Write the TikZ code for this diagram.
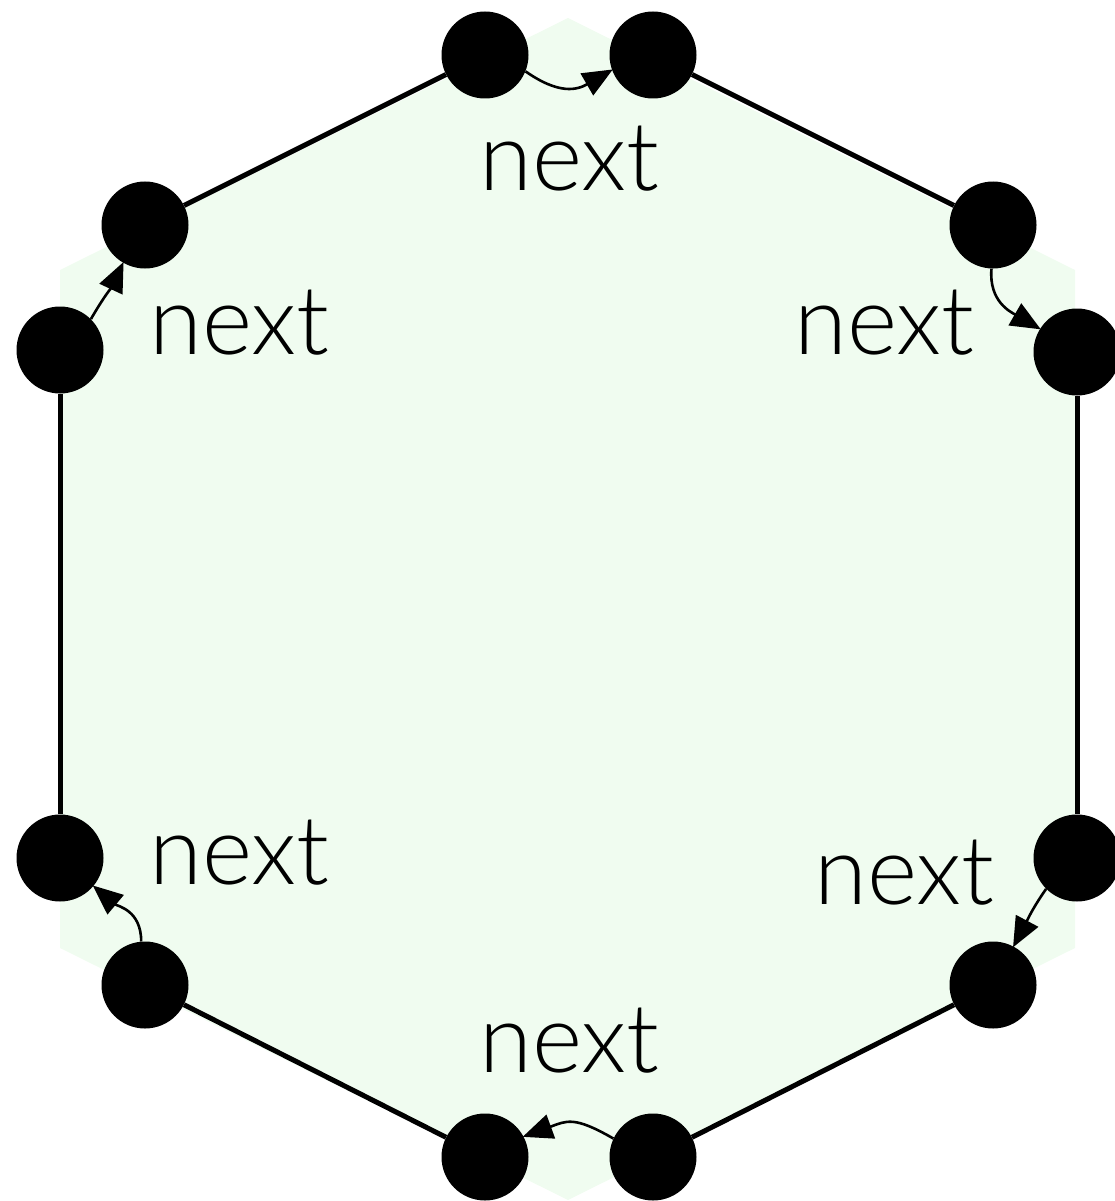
\documentclass[tikz,border=0pt]{standalone}
\usepackage{fontspec}
\setmainfont{Lato}[UprightFont=* Light]
\usetikzlibrary{arrows.meta}
\definecolor{hexfill}{RGB}{240,252,240}
\begin{document}
\begin{tikzpicture}[x=1pt,y=-1pt,
  dot/.style={circle,fill=black,minimum size=87pt,inner sep=0pt},
  edge/.style={line width=5pt},
  nxt/.style={-{Triangle[length=30pt,width=25pt]},line width=2.6pt,shorten >=-1pt},
  lbl/.style={anchor=base west,inner sep=0pt,font=\fontsize{96}{104}\selectfont}]
\useasboundingbox (0,0) rectangle (1115,1201);
\fill[hexfill] (568,18) -- (1075,270) -- (1075,948) -- (568,1200) -- (60,948) -- (60,270) -- cycle;
% dots
\node[dot] (t1) at (485,55) {};
\node[dot] (t2) at (653,55) {};
\node[dot] (r1) at (993,225) {};
\node[dot] (r2) at (1077,352) {};
\node[dot] (r3) at (1077,858) {};
\node[dot] (r4) at (993,985) {};
\node[dot] (b1) at (653,1157) {};
\node[dot] (b2) at (485,1157) {};
\node[dot] (l4) at (145,985) {};
\node[dot] (l3) at (60,858) {};
\node[dot] (l2) at (60,350) {};
\node[dot] (l1) at (145,225) {};
% edges
\draw[edge] (t1) -- (l1);
\draw[edge] (t2) -- (r1);
\draw[edge] (r2) -- (r3);
\draw[edge] (r4) -- (b1);
\draw[edge] (b2) -- (l4);
\draw[edge] (l3) -- (l2);
% next arrows
\draw[nxt] (t1.-22) to[out=-35,in=210,looseness=1.2] (t2.200);
\draw[nxt] (r1.-92) to[out=-95,in=150,looseness=1.1] (r2.148);
\draw[nxt] (r3.225) to[out=235,in=62] (r4.62);
\draw[nxt] (b1.155) to[out=150,in=20,looseness=1.3] (b2.28);
\draw[nxt] (l4.95) to[out=90,in=-40,looseness=1.1] (l3.-40);
\draw[nxt] (l2.45) to[out=60,in=245] (l1.240);
% labels
\node[lbl] (n1) at (479,190) {next};
\node[lbl] (n2) at (149,354) {next};
\node[lbl] (n3) at (794,354) {next};
\node[lbl] (n4) at (149,884) {next};
\node[lbl] (n5) at (814,904) {next};
\node[lbl] (n6) at (479,1072) {next};
\end{tikzpicture}
\end{document}
